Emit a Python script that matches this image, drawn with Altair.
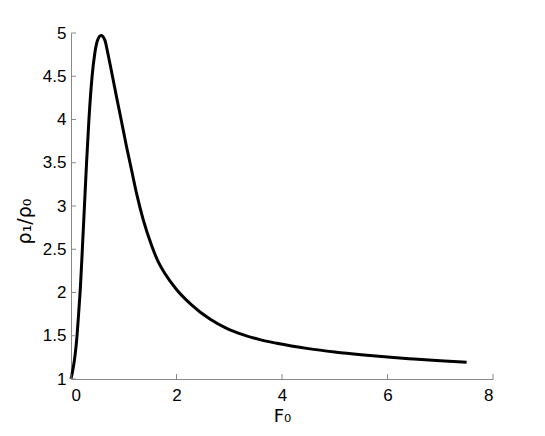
import altair as alt
import pandas as pd

# Curve
F0 = [0.00, 0.04, 0.08, 0.11, 0.145, 0.18, 0.215, 0.255, 0.295, 0.34, 0.40,
      0.45, 0.50, 0.57, 0.64, 0.70, 0.77, 0.86, 0.95, 1.055, 1.15, 1.245,
      1.37, 1.53, 1.65, 1.78, 2.00, 2.28, 2.64, 2.95, 3.27, 3.58, 3.90, 4.5,
      5.0, 5.5, 6.0, 6.5, 7.0, 7.5]
ratio = [1.00, 1.12, 1.29, 1.47, 1.76, 2.08, 2.50, 3.00, 3.50, 4.00, 4.50,
         4.76, 4.91, 4.97, 4.92, 4.76, 4.55, 4.27, 4.00, 3.68, 3.41, 3.14,
         2.84, 2.54, 2.36, 2.22, 2.035, 1.86, 1.69, 1.586, 1.511, 1.455, 1.413,
         1.351, 1.312, 1.280, 1.253, 1.231, 1.211, 1.195]

x_ticks = [0, 2, 4, 6, 8]
y_ticks = [1, 1.5, 2, 2.5, 3, 3.5, 4, 4.5, 5]

W, H = 422, 346
AXIS_GREY = "#888888"

df = pd.DataFrame({"F0": F0, "ratio": ratio})
xt = pd.DataFrame({"t": x_ticks})
yt = pd.DataFrame({"t": y_ticks})

xscale = alt.Scale(domain=[0, 8], nice=False, zero=False)
yscale = alt.Scale(domain=[1, 5], nice=False, zero=False)

font = "Liberation Sans"
tfont = "DejaVu Sans"

line = alt.Chart(df).mark_line(color="black", strokeWidth=3, interpolate="monotone").encode(
    x=alt.X("F0:Q", scale=xscale,
            axis=alt.Axis(title="F₀", values=x_ticks, tickSize=0, domainColor=AXIS_GREY,
                          labelFontSize=17, labelColor="black", labelPadding=8,
                          titleFontSize=18, titleFontWeight="normal", titleColor="black",
                          titlePadding=4, grid=False, labelFont=font, titleFont=tfont,
                          format="d")),
    y=alt.Y("ratio:Q", scale=yscale,
            axis=alt.Axis(title="ρ₁/ρ₀", values=y_ticks, tickSize=0, domainColor=AXIS_GREY,
                          labelFontSize=17, labelColor="black", labelPadding=5,
                          titleFontSize=19, titleFontWeight="normal", titleColor="black",
                          titlePadding=8, titleY=188, grid=False, labelFont=font,
                          titleFont=tfont, format="~g")),
)

xticks = alt.Chart(xt).mark_rule(color=AXIS_GREY, strokeWidth=1).encode(
    x=alt.X("t:Q", scale=xscale), y=alt.value(H), y2=alt.value(H - 5)
)
yticks = alt.Chart(yt).mark_rule(color=AXIS_GREY, strokeWidth=1).encode(
    y=alt.Y("t:Q", scale=yscale), x=alt.value(0), x2=alt.value(5)
)

chart = alt.layer(line, xticks, yticks).properties(
    width=W, height=H,
    background="white",
    autosize=alt.AutoSizeParams(type="none"),
    padding={"left": 63, "top": 25, "right": 40, "bottom": 50},
).configure_view(strokeWidth=0, stroke="transparent")

chart.save("out.html", embed_options={"renderer": "svg", "actions": False})
